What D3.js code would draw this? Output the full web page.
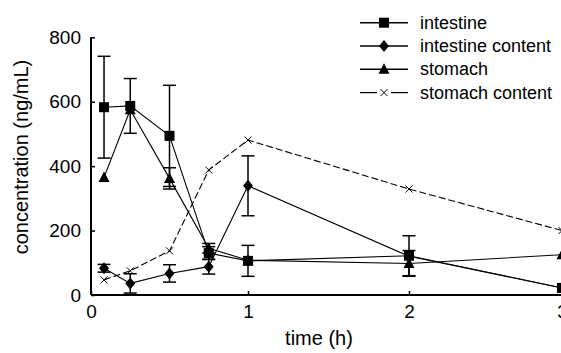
<!DOCTYPE html>
<html><head><meta charset="utf-8">
<script src="https://cdn.jsdelivr.net/npm/d3@7"></script>
<style>body{margin:0;background:#fff}svg{display:block}</style>
</head><body>
<svg id="c" width="561" height="353"></svg>
<script>
const times = [0.083, 0.25, 0.5, 0.75, 1, 2, 3];
const xTicks = [0, 1, 2, 3];
const yTicks = [0, 200, 400, 600, 800];
const intestine = [583, 587, 494, 130, 106, 122, 22];
const intestineErr = [158, 85, 157, 20, 48, 62, 0];
const intestineContent = [83, 36, 67, 88, 339, 120, 22];
const intestineContentErr = [12, 30, 27, 23, 93, 0, 0];
const stomach = [365, 575, 362, 145, 108, 98, 125];
const stomachErr = [0, 0, 33, 15, 0, 40, 0];
const stomachContent = [47, 75, 137, 388, 481, 329, 200];
const seriesNames = ["intestine", "intestine content", "stomach", "stomach content"];

const svg = d3.select("#c");
const font = "Liberation Sans, Arial, Helvetica, sans-serif";
const x = d3.scaleLinear().domain([0, 1, 2, 3]).range([91, 248, 409, 562]);
const y = d3.scaleLinear().domain([0, 800]).range([295, 37.3]);

const series = [
  {name: seriesNames[0], v: intestine, e: intestineErr, sym: "square", dash: null},
  {name: seriesNames[1], v: intestineContent, e: intestineContentErr, sym: "diamond", dash: null},
  {name: seriesNames[2], v: stomach, e: stomachErr, sym: "triangle", dash: null},
  {name: seriesNames[3], v: stomachContent, e: null, sym: "cross", dash: "7,3"}
];

function marker(g, sym, cx, cy) {
  if (sym === "square") {
    g.append("rect").attr("x", cx - 5).attr("y", cy - 5).attr("width", 10).attr("height", 10).attr("fill", "#000");
  } else if (sym === "diamond") {
    g.append("path").attr("d", `M${cx},${cy-6}L${cx+5},${cy}L${cx},${cy+6}L${cx-5},${cy}Z`).attr("fill", "#000");
  } else if (sym === "triangle") {
    g.append("path").attr("d", `M${cx},${cy-6}L${cx+5.5},${cy+4.5}L${cx-5.5},${cy+4.5}Z`).attr("fill", "#000");
  } else {
    g.append("path").attr("d", `M${cx-3.5},${cy-3.5}L${cx+3.5},${cy+3.5}M${cx-3.5},${cy+3.5}L${cx+3.5},${cy-3.5}`)
      .attr("stroke", "#000").attr("stroke-width", 1);
  }
}

const plot = svg.append("g");
series.forEach(s => {
  const line = d3.line().x((d, i) => x(times[i])).y(d => y(d));
  plot.append("path").datum(s.v).attr("d", line).attr("fill", "none")
    .attr("stroke", "#000").attr("stroke-width", 1.1)
    .attr("stroke-dasharray", s.dash);
});
series.forEach(s => {
  if (!s.e) return;
  s.v.forEach((v, i) => {
    const e = s.e[i];
    if (!e) return;
    const cx = x(times[i]);
    const y1 = y(v + e), y2 = y(Math.max(0, v - e));
    plot.append("line").attr("x1", cx).attr("x2", cx).attr("y1", y1).attr("y2", y2).attr("stroke", "#000").attr("stroke-width", 1.5);
    [y1, y2].forEach(yy => plot.append("line").attr("x1", cx - 6.5).attr("x2", cx + 6.5).attr("y1", yy).attr("y2", yy).attr("stroke", "#000").attr("stroke-width", 1.5));
  });
});
series.forEach(s => {
  s.v.forEach((v, i) => marker(plot, s.sym, x(times[i]), y(v)));
});

const xAxis = svg.append("g").attr("transform", "translate(0,295)")
  .call(d3.axisBottom(x).tickValues(xTicks).tickSizeInner(-4).tickSizeOuter(0).tickPadding(10).tickFormat(d3.format("d")));
const yAxis = svg.append("g").attr("transform", "translate(91,0)")
  .call(d3.axisLeft(y).tickValues(yTicks).tickSizeInner(-4).tickSizeOuter(0).tickPadding(10));
[xAxis, yAxis].forEach(a => {
  a.select(".domain").attr("stroke", "#000").attr("stroke-width", 2);
  a.selectAll(".tick line").attr("stroke", "#000").attr("stroke-width", 1.5);
  a.selectAll("text").attr("font-family", font).attr("font-size", 19).attr("fill", "#000");
});
xAxis.select(".domain").attr("d", "M91,0H561");
yAxis.select(".domain").attr("d", "M0,295V37.3");

svg.append("text").attr("x", 319).attr("y", 345).attr("text-anchor", "middle")
  .attr("font-family", font).attr("font-size", 20).text("time (h)");
svg.append("text").attr("transform", "translate(28,157) rotate(-90)").attr("text-anchor", "middle")
  .attr("font-family", font).attr("font-size", 20).text("concentration (ng/mL)");

const lg = svg.append("g");
series.forEach((s, i) => {
  const yy = 22.7 + i * 23.3;
  if (s.dash) {
    lg.append("line").attr("x1", 360).attr("x2", 377).attr("y1", yy).attr("y2", yy).attr("stroke", "#000").attr("stroke-width", 1.2);
    lg.append("line").attr("x1", 391).attr("x2", 408).attr("y1", yy).attr("y2", yy).attr("stroke", "#000").attr("stroke-width", 1.2);
  } else {
    lg.append("line").attr("x1", 360).attr("x2", 408).attr("y1", yy).attr("y2", yy).attr("stroke", "#000").attr("stroke-width", 1.5);
  }
  marker(lg, s.sym, 384, yy);
  lg.append("text").attr("x", 420).attr("y", yy + 6).attr("font-family", font).attr("font-size", 18).text(s.name);
});
</script>
</body></html>
